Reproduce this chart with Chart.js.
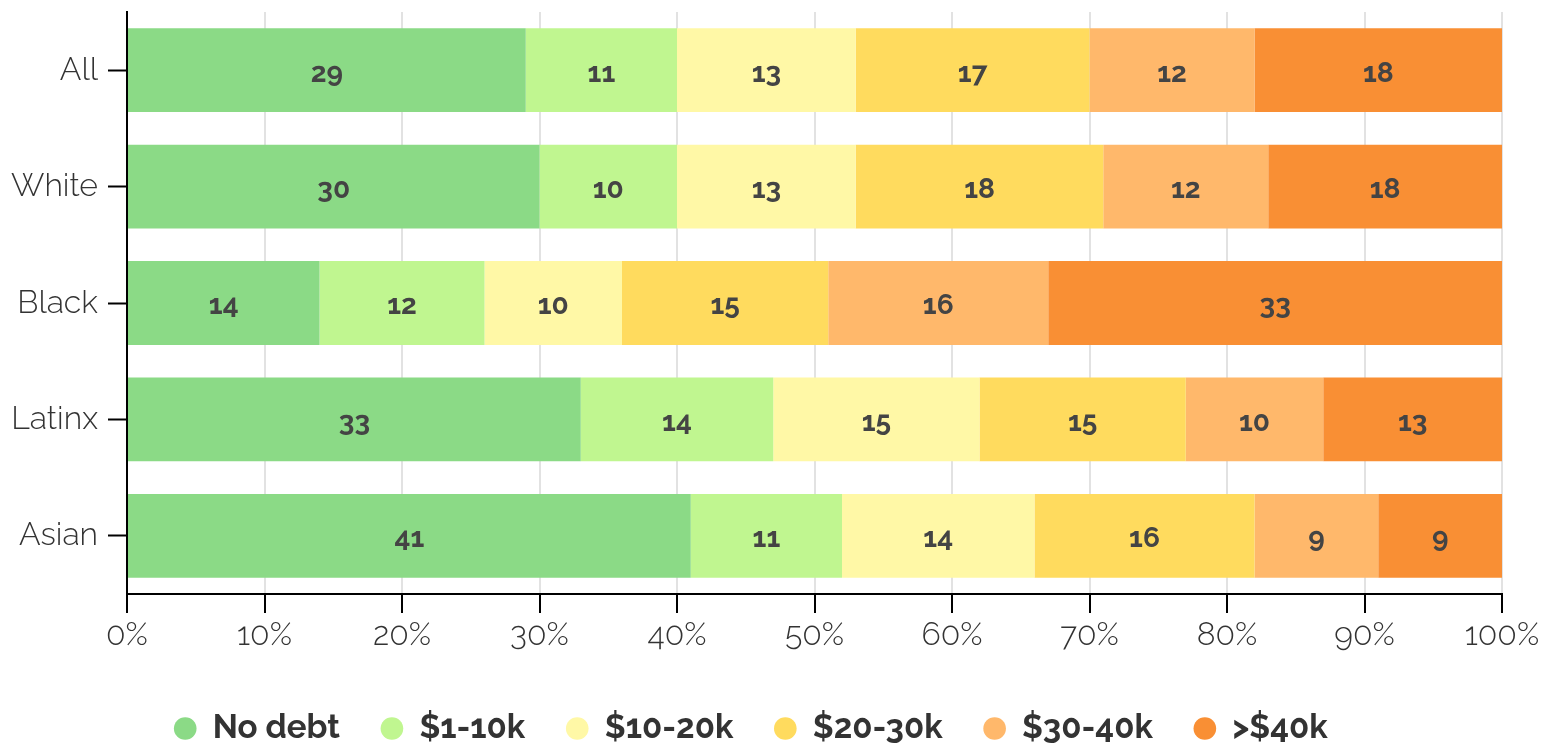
<!DOCTYPE html>
<html>
<head>
<meta charset="utf-8">
<script src="https://cdn.jsdelivr.net/npm/chart.js@4"></script>
<style>
  html, body { margin: 0; padding: 0; background: #fff; }
  #wrap { width: 1551px; height: 751px; }
</style>
</head>
<body>
<div id="wrap"><canvas id="myChart"></canvas></div>
<script>
const groups = ["All", "White", "Black", "Latinx", "Asian"];
const seriesNames = ["No debt", "$1-10k", "$10-20k", "$20-30k", "$30-40k", ">$40k"];
const noDebt = [29, 30, 14, 33, 41];
const upTo10k = [11, 10, 12, 14, 11];
const from10to20k = [13, 13, 10, 15, 14];
const from20to30k = [17, 18, 15, 15, 16];
const from30to40k = [12, 12, 16, 10, 9];
const over40k = [18, 18, 33, 13, 9];
const xTicks = [0, 10, 20, 30, 40, 50, 60, 70, 80, 90, 100];

const colors = ["#8bda86", "#c0f690", "#fff8a6", "#ffdb5e", "#ffb86b", "#f98f34"];
const values = [noDebt, upTo10k, from10to20k, from20to30k, from30to40k, over40k];

const FONT = "Raleway, Lato, 'Open Sans', sans-serif";

// numbers written in the middle of each segment
const segmentLabels = {
  id: "segmentLabels",
  afterInit(chart) {
    // keep the legend box a fixed height so the chart area lines up
    const legend = chart.legend;
    const fit = legend.fit;
    legend.fit = function () {
      fit.call(this);
      this.height = 80;
    };
  },
  afterDatasetsDraw(chart) {
    const { ctx, chartArea } = chart;
    ctx.save();
    ctx.font = "bold 28px " + FONT;
    ctx.fillStyle = "#444";
    ctx.textAlign = "center";
    ctx.textBaseline = "middle";
    chart.data.datasets.forEach((ds, i) => {
      chart.getDatasetMeta(i).data.forEach((bar, j) => {
        const left = Math.max(bar.base, chartArea.left);
        const right = Math.min(bar.x, chartArea.right);
        ctx.fillText(ds.data[j], (left + right) / 2, bar.y + 3);
      });
    });
    ctx.restore();
  },
};

const ctx = document.getElementById("myChart");
new Chart(ctx, {
  type: "bar",
  data: {
    labels: groups,
    datasets: seriesNames.map((name, i) => ({
      label: name,
      data: values[i],
      backgroundColor: colors[i],
      borderWidth: 0,
      categoryPercentage: 1,
      barPercentage: 0.72,
    })),
  },
  options: {
    indexAxis: "y",
    responsive: true,
    maintainAspectRatio: false,
    animation: false,
    layout: {
      padding: { top: 12, right: 49, left: 0, bottom: 0 },
    },
    plugins: {
      legend: {
        position: "bottom",
        labels: {
          usePointStyle: true,
          pointStyle: "circle",
          boxWidth: 22,
          boxHeight: 16,
          padding: 41,
          color: "#333",
          font: { family: FONT, size: 33, weight: "bold" },
        },
      },
      tooltip: { enabled: false },
    },
    scales: {
      x: {
        stacked: true,
        min: 0,
        max: 100,
        afterBuildTicks: (scale) => {
          scale.ticks = xTicks.map((v) => ({ value: v }));
        },
        afterFit: (scale) => {
          scale.height = 77;
        },
        grid: {
          color: "#e2e2e2",
          lineWidth: 2,
          tickColor: "#000",
          tickWidth: 2,
          tickLength: 19,
        },
        border: { color: "#000", width: 2 },
        ticks: {
          padding: 3,
          color: "#333",
          font: { family: FONT, size: 32, weight: "300" },
          callback: (v) => v + "%",
          maxRotation: 0,
        },
      },
      y: {
        stacked: true,
        afterFit: (scale) => {
          scale.width = 127;
          scale.paddingTop = 0;
          scale.paddingBottom = 0;
        },
        grid: {
          offset: false,
          drawOnChartArea: false,
          tickColor: "#000",
          tickWidth: 2,
          tickLength: 19,
        },
        border: { color: "#000", width: 2 },
        ticks: {
          padding: 10,
          color: "#333",
          font: { family: FONT, size: 32, weight: "300" },
        },
      },
    },
  },
  plugins: [segmentLabels],
});
</script>
</body>
</html>
